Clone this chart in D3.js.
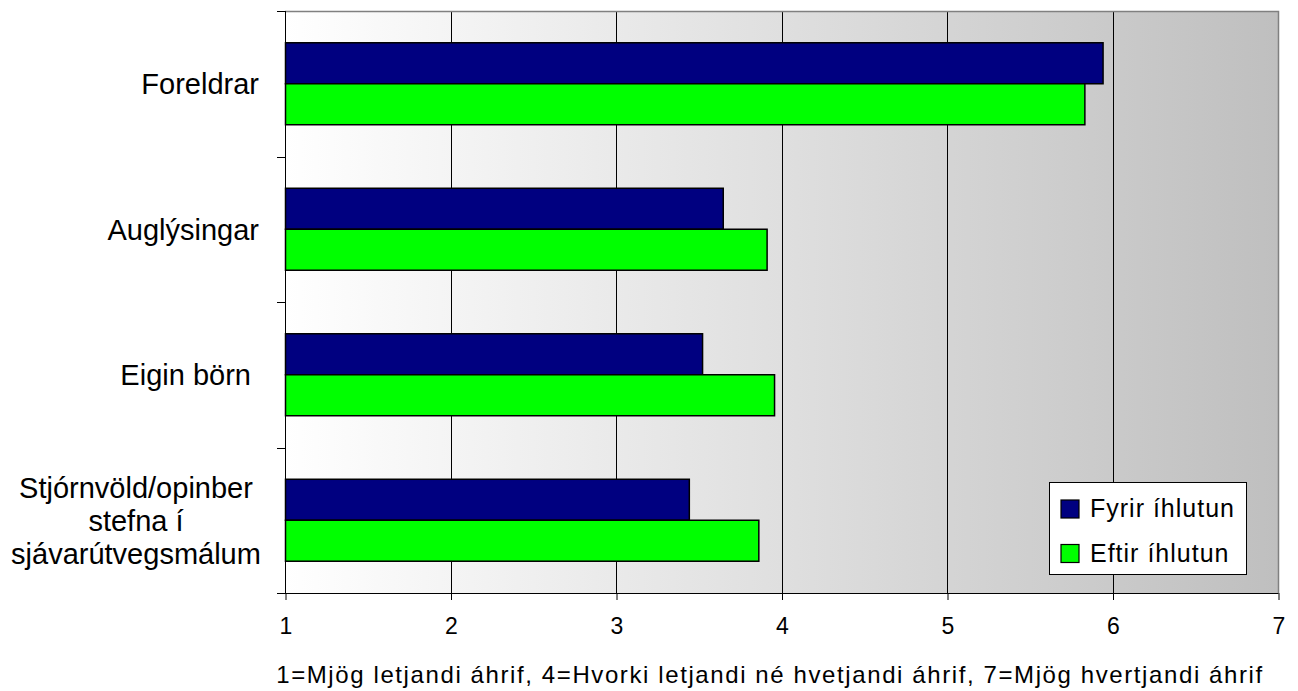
<!DOCTYPE html>
<html>
<head>
<meta charset="utf-8">
<script src="https://cdn.jsdelivr.net/npm/d3@7"></script>
<style>
  html, body { margin: 0; padding: 0; background: #ffffff; }
  svg { display: block; font-family: "Liberation Sans", Arial, sans-serif; }
</style>
</head>
<body>
<svg id="chart" width="1298" height="691"></svg>
<script>
// ---- data ----
const categories = ["Foreldrar", "Auglýsingar", "Eigin börn ", "Stjórnvöld/opinber\nstefna í\nsjávarútvegsmálum"];
const seriesNames = ["Fyrir íhlutun", "Eftir íhlutun"];
const fyrirValues = [5.94, 3.645, 3.52, 3.44];
const eftirValues = [5.83, 3.91, 3.955, 3.86];
const xTickValues = [1, 2, 3, 4, 5, 6, 7];
const axisTitle = "1=Mjög letjandi áhrif, 4=Hvorki letjandi né hvetjandi áhrif, 7=Mjög hvertjandi áhrif";
const seriesColors = ["#000080", "#00ff00"];

const seriesValues = [fyrirValues, eftirValues];
const rows = categories.map((c, i) => ({ cat: c, vals: seriesNames.map((s, j) => ({ s, v: seriesValues[j][i] })) }));

// ---- layout ----
const svg = d3.select("#chart");
const L = 285, R = 1278, T = 11, B = 593;

const x = d3.scaleLinear().domain([1, 7]).range([L, R]);
const y0 = d3.scaleBand().domain(categories).range([T, B]).padding(0);
const y1 = d3.scaleBand().domain(seriesNames).range([0, y0.bandwidth()]).paddingInner(0).paddingOuter(0.775);
const color = d3.scaleOrdinal().domain(seriesNames).range(seriesColors);

// gradient background
const defs = svg.append("defs");
const grad = defs.append("linearGradient").attr("id", "bg").attr("x1", "0%").attr("x2", "100%").attr("y1", "0%").attr("y2", "0%");
grad.append("stop").attr("offset", "0%").attr("stop-color", "#ffffff");
grad.append("stop").attr("offset", "100%").attr("stop-color", "#bfbfbf");

svg.append("rect").attr("x", L).attr("y", T).attr("width", R - L).attr("height", B - T).attr("fill", "url(#bg)");

// gridlines
svg.append("g").selectAll("line").data(xTickValues.slice(1, -1)).join("line")
  .attr("x1", d => Math.round(x(d)) + 0.5).attr("x2", d => Math.round(x(d)) + 0.5)
  .attr("y1", T).attr("y2", B)
  .attr("stroke", "#000").attr("stroke-width", 1);

// top & right border
svg.append("path")
  .attr("d", `M${L},${T + 0.5}H${R + 0.5}V${B}`)
  .attr("fill", "none").attr("stroke", "#808080").attr("stroke-width", 1.5);

// bars
const groups = svg.append("g").selectAll("g").data(rows).join("g")
  .attr("transform", d => `translate(0,${y0(d.cat)})`);
groups.selectAll("rect").data(d => d.vals).join("rect")
  .attr("x", x(1) + 0.5)
  .attr("y", d => y1(d.s))
  .attr("width", d => x(d.v) - x(1))
  .attr("height", y1.bandwidth())
  .attr("fill", d => color(d.s))
  .attr("stroke", "#000").attr("stroke-width", 1.5);

// x axis
const xAxis = d3.axisBottom(x).tickValues(xTickValues).tickSize(7).tickPadding(17).tickFormat(d3.format("d"));
const gx = svg.append("g").attr("transform", `translate(0.5,${B})`).call(xAxis)
  .attr("font-size", null).attr("font-family", null);
gx.select(".domain").attr("stroke", "#000").attr("d", `M${L - 8.5},0.5H${R}`);
gx.selectAll(".tick line").attr("stroke", "#000");
gx.selectAll(".tick text").style("font-size", "23px").attr("fill", "#000")
  .style("font-family", "'Liberation Sans', Arial, sans-serif").attr("dy", "0.75em");

// y axis (ticks at category boundaries)
const yBoundaries = categories.map(c => y0(c)).concat([B]);
svg.append("line").attr("x1", L + 0.5).attr("x2", L + 0.5).attr("y1", T).attr("y2", B).attr("stroke", "#000");
svg.append("g").selectAll("line").data(yBoundaries.slice(0, -1)).join("line")
  .attr("x1", L - 8).attr("x2", L)
  .attr("y1", d => Math.round(d) + 0.5).attr("y2", d => Math.round(d) + 0.5)
  .attr("stroke", "#000");

// category labels
const labelG = svg.append("g");
rows.forEach(r => {
  const lines = r.cat.split("\n");
  const cy = y0(r.cat) + y0.bandwidth() / 2;
  const lh = 33;
  const multi = lines.length > 1;
  const t = labelG.append("text")
    .attr("font-size", "29px").attr("fill", "#000")
    .attr("text-anchor", multi ? "middle" : "end")
    .style("white-space", "pre");
  lines.forEach((ln, i) => {
    t.append("tspan")
      .attr("x", multi ? 136 : 259)
      .attr("y", cy + 10.5 + (i - (lines.length - 1) / 2) * lh)
      .text(ln);
  });
});

// axis title
svg.append("text").attr("x", 770).attr("y", 683).attr("text-anchor", "middle")
  .style("font-size", "24px").attr("letter-spacing", "1.6px").attr("fill", "#000").text(axisTitle);

// legend
const lg = svg.append("g");
lg.append("rect").attr("x", 1049.5).attr("y", 482.5).attr("width", 197).attr("height", 92)
  .attr("fill", "#fff").attr("stroke", "#000").attr("stroke-width", 1);
const items = lg.selectAll("g").data(seriesNames).join("g")
  .attr("transform", (d, i) => `translate(0,${i * 44.5})`);
items.append("rect").attr("x", 1061).attr("y", 500).attr("width", 18).attr("height", 18)
  .attr("fill", d => color(d)).attr("stroke", "#000").attr("stroke-width", 1.2);
items.append("text").attr("x", 1090).attr("y", 517).style("font-size", "25px")
  .attr("letter-spacing", "1px").attr("fill", "#000").text(d => d);
</script>
</body>
</html>
